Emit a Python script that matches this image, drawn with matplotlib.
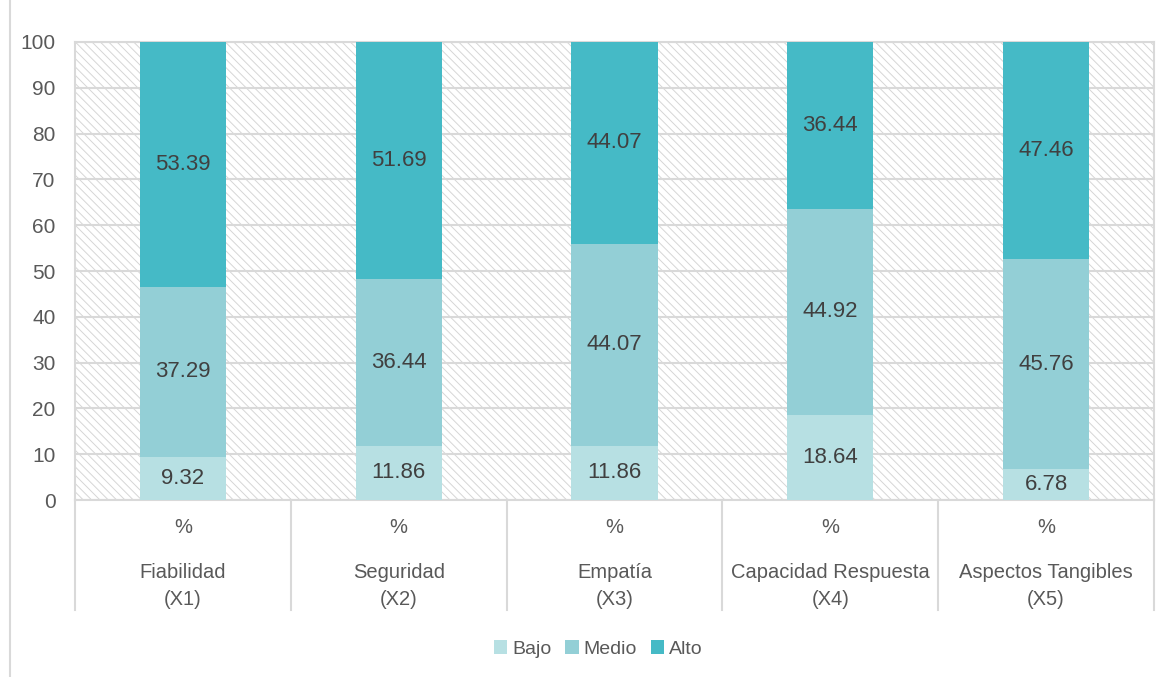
import matplotlib.pyplot as plt
from matplotlib.patches import Rectangle
from matplotlib.lines import Line2D

plt.rcParams['font.family'] = ['Liberation Sans', 'DejaVu Sans']
plt.rcParams['hatch.linewidth'] = 0.7

categories = ['Fiabilidad\n(X1)', 'Seguridad\n(X2)', 'Empatía\n(X3)',
              'Capacidad Respuesta\n(X4)', 'Aspectos Tangibles\n(X5)']
bajo = [9.32, 11.86, 11.86, 18.64, 6.78]
medio = [37.29, 36.44, 44.07, 44.92, 45.76]
alto = [53.39, 51.69, 44.07, 36.44, 47.46]
series = [('Bajo', bajo, '#b7e0e3'), ('Medio', medio, '#93cfd6'), ('Alto', alto, '#45bac6')]

grid_c = '#d9d9d9'
txt_c = '#595959'

fig = plt.figure(figsize=(11.66, 6.77), dpi=100)
ax = fig.add_axes([0.0643, 0.2614, 0.9254, 0.6766])

# hatched background
bg = Rectangle((0, 0), 1, 1, transform=ax.transAxes, facecolor='white',
               edgecolor='#d6d6d6', hatch='\\\\\\\\', linewidth=0, zorder=0)
ax.add_patch(bg)

x = list(range(len(categories)))
bottom = [0] * len(categories)
for name, vals, col in series:
    ax.bar(x, vals, width=0.4, bottom=bottom, color=col, label=name, zorder=3)
    for i, v in enumerate(vals):
        ax.text(i, bottom[i] + v / 2, f'{v:.2f}', ha='center', va='center',
                fontsize=16, color='#404040', zorder=4)
    bottom = [b + v for b, v in zip(bottom, vals)]

ax.set_xlim(-0.5, len(categories) - 0.5)
ax.set_ylim(0, 100)
ax.set_yticks(range(0, 101, 10))
ax.tick_params(axis='y', length=0, labelsize=15, labelcolor=txt_c, pad=14)
ax.set_xticks([])
ax.yaxis.grid(True, color=grid_c, linewidth=1.5, zorder=1)
ax.set_axisbelow(True)
for s in ['top', 'right', 'bottom', 'left']:
    ax.spines[s].set_color(grid_c)
    ax.spines[s].set_linewidth(1.5)

# category separators extending into label area
for b in range(len(categories) + 1):
    ax.plot([b - 0.5, b - 0.5], [0, -0.24], transform=ax.get_xaxis_transform(),
            color=grid_c, linewidth=1.5, clip_on=False, zorder=1)
for i, c in enumerate(categories):
    ax.text(i, -0.06, '%', transform=ax.get_xaxis_transform(), ha='center',
            va='center', fontsize=14.5, color=txt_c)
    ax.text(i, -0.188, c, transform=ax.get_xaxis_transform(), ha='center',
            va='center', fontsize=14.5, color=txt_c, linespacing=1.55)

fig.add_artist(Line2D([10 / 1166, 10 / 1166], [0, 1], color=grid_c, linewidth=1.5))

ax.legend(loc='center', bbox_to_anchor=(0.485, -0.325), ncol=3, frameon=False,
          fontsize=14, labelcolor=txt_c, handlelength=0.7, handleheight=0.7,
          handletextpad=0.25, columnspacing=0.7)

fig.savefig('out.png', dpi=100)
